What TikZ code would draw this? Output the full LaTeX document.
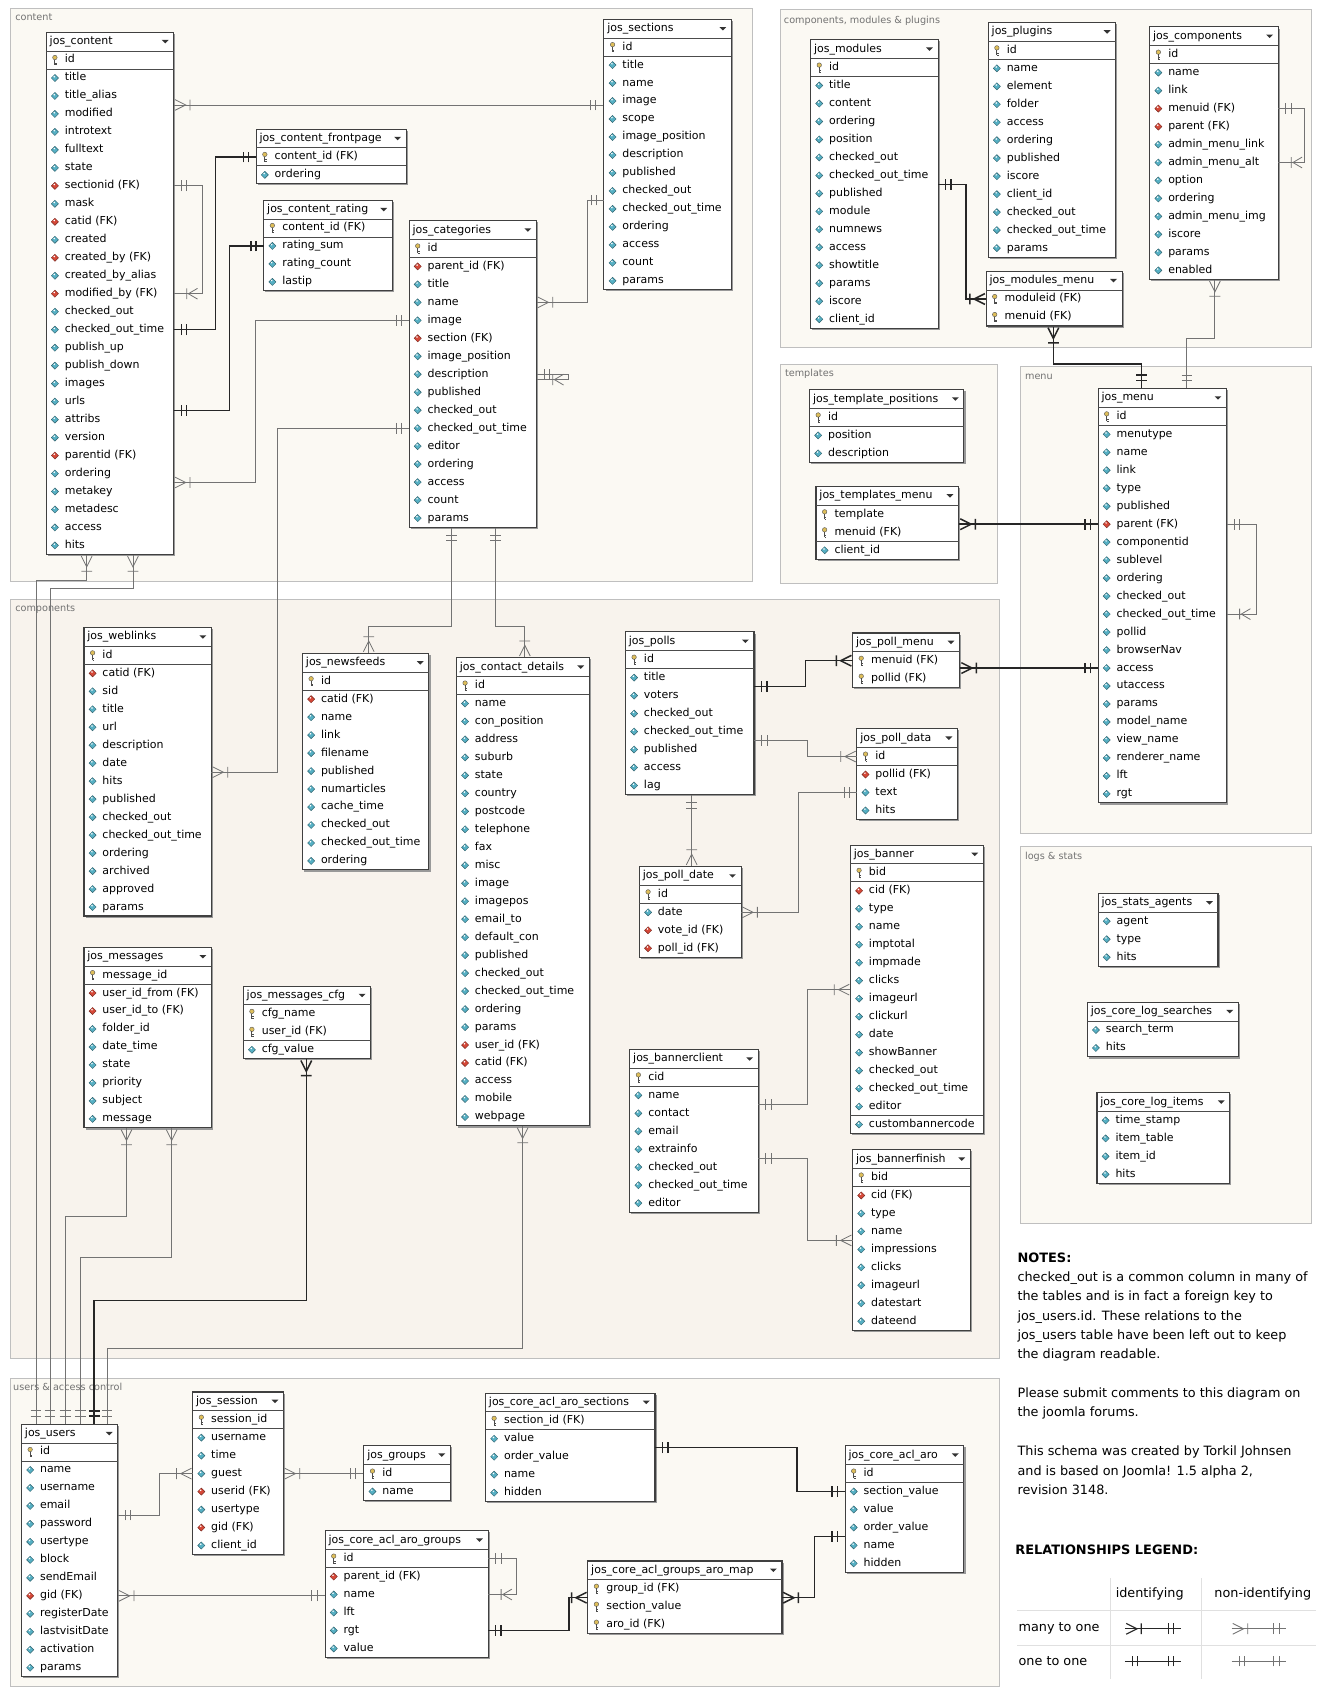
\documentclass[tikz,border=0pt]{standalone}
\usepackage{fontspec}
\setmainfont{DejaVu Sans}
\usetikzlibrary{positioning,fit,shadows,decorations.markings}
\pgfdeclarelayer{regions}
\pgfdeclarelayer{frames}
\pgfsetlayers{regions,frames,main}
\definecolor{colblue}{RGB}{86,176,196}
\definecolor{colred}{RGB}{214,72,56}
\definecolor{keygold}{RGB}{222,190,90}
\definecolor{regionfill}{RGB}{251,249,243}
\definecolor{compfill}{RGB}{248,243,237}
\newcommand\tblfont{\fontsize{10.2}{12}\selectfont}
\tikzset{
    %Define style for tables
    tblhead/.style={inner sep=0pt, minimum height=17pt, text height=8pt, text depth=2.5pt, font=\tblfont},
    tblrow/.style={inner sep=0pt, minimum height=16.3pt, text height=8pt, text depth=2.5pt, font=\tblfont},
    tblframe/.style={draw=black!75, line width=1pt, fill=white, inner sep=0pt,
           drop shadow={shadow xshift=1.5pt, shadow yshift=-1.5pt, fill=black!40, opacity=1}},
    tblline/.style={draw=black!70, line width=.8pt},
    %Define style for regions
    region/.style={draw=black!25, line width=.6pt, fill=regionfill},
    regionlabel/.style={anchor=west, inner sep=0pt, font=\fontsize{9}{10}\selectfont, text=black!55},
    notes/.style={inner sep=0pt, align=left, font=\fontsize{11.9}{18}\selectfont},
    notehead/.style={anchor=west, inner sep=0pt, font=\fontsize{12}{14}\selectfont\bfseries},
    % Define relation styles
    ident/.style={draw=black!85, line width=1.4pt},
    nonident/.style={draw=black!55, line width=.75pt},
    one start/.style={postaction={decorate,decoration={markings,
           mark=at position 7pt with {\draw (0,-5pt) -- (0,5pt);},
           mark=at position 12pt with {\draw (0,-5pt) -- (0,5pt);}}}},
    one end/.style={postaction={decorate,decoration={markings,
           mark=at position -12pt with {\draw (0,-5pt) -- (0,5pt);},
           mark=at position -7pt with {\draw (0,-5pt) -- (0,5pt);}}}},
    many start/.style={postaction={decorate,decoration={markings,
           mark=at position 0.1pt with {\draw (1pt,5pt) -- (11pt,0) -- (1pt,-5pt) (15pt,-5pt) -- (15pt,5pt);}}}},
    many end/.style={postaction={decorate,decoration={markings,
           mark=at position -0.1pt with {\draw (-1pt,5pt) -- (-11pt,0) -- (-1pt,-5pt) (-15pt,-5pt) -- (-15pt,5pt);}}}},
    self many end/.style={postaction={decorate,decoration={markings,
           mark=at position -0.1pt with {\draw ({-#1},-5pt) -- ({-#1},5pt) ({-#1-10pt},5pt) -- ({-#1-1.5pt},0) -- ({-#1-10pt},-5pt);}}}},
    self many end/.default=12pt,
    % icons
    pics/keyicon/.style={code={
           \filldraw[draw=black!65, fill=keygold, line width=.4pt] (0,2.3pt) circle (2.1pt);
           \draw[black!70, line width=.9pt] (0,.3pt) -- (0,-4.6pt) (0,-2.8pt) -- (1.7pt,-2.8pt) (0,-4.4pt) -- (1.7pt,-4.4pt);}},
    pics/colicon/.style={code={
           \filldraw[draw=#1!55!black, fill=#1, line width=.4pt] (0,3.3pt) -- (3.3pt,0) -- (0,-3.3pt) -- (-3.3pt,0) -- cycle;
           \fill[white] (-.6pt,1.2pt) circle (.8pt);}},
    pics/dropdown/.style={code={\fill[black!80] (-3.2pt,1.6pt) -- (3.2pt,1.6pt) -- (0,-1.6pt) -- cycle;}}
}
% #1 node name, #2 title, #3 corner, #4 width, #5 key rows, #6 rows
\newcommand\dbtable[6]{%
  \node[tblhead, minimum width=#4, anchor=north west] (#1-0) at (#3) {\makebox[#4][l]{\hspace{3pt}#2}};
  \pic at ([xshift=-8pt]#1-0.east) {dropdown};
  \foreach \txt/\kind [count=\i, evaluate=\i as \j using int(\i-1)] in {#6}{
    \node[tblrow, minimum width=#4, below=0pt of #1-\j] (#1-\i) {\makebox[#4][l]{\hspace{17pt}\txt}};
    \if k\kind \pic at ([xshift=8pt]#1-\i.west) {keyicon};\fi
    \if c\kind \pic at ([xshift=8pt]#1-\i.west) {colicon=colblue};\fi
    \if f\kind \pic at ([xshift=8pt]#1-\i.west) {colicon=colred};\fi
    \if b\kind \pic at ([xshift=8pt]#1-\i.west) {colicon=colblue};
      \draw[tblline] (#1-\i.north west) -- (#1-\i.north east);\fi
    \xdef\lastrow{\i}
  }
  \draw[tblline] (#1-0.south west) -- (#1-0.south east);
  \ifnum#5>0 \draw[tblline] (#1-#5.south west) -- (#1-#5.south east);\fi
  \begin{pgfonlayer}{frames}
    \node[tblframe, fit=(#1-0)(#1-\lastrow)] (#1) {};
  \end{pgfonlayer}
}
\begin{document}
\catcode`\_=12
\begin{tikzpicture}[x=1pt, y=-1pt]
\useasboundingbox (0,0) rectangle (1226,1568);
% regions
\begin{pgfonlayer}{regions}
  \fill[white] (0,0) rectangle (1226,1568);
  \draw[region] (10,8) rectangle (699,540);
  \draw[region] (725,9) rectangle (1218,323);
  \draw[region] (725,338) rectangle (926,542);
  \draw[region] (948,340) rectangle (1218,774);
  \draw[region, fill=compfill] (10,557) rectangle (928,1262);
  \draw[region] (948,786) rectangle (1218,1136);
  \draw[region] (10,1280) rectangle (928,1566);
\end{pgfonlayer}
\node[regionlabel] (rl-content) at (14,16) {content};
\node[regionlabel] (rl-cmp) at (728,19) {components, modules \& plugins};
\node[regionlabel] (rl-tmpl) at (729,347) {templates};
\node[regionlabel] (rl-menu) at (952,350) {menu};
\node[regionlabel] (rl-comp) at (14,566) {components};
\node[regionlabel] (rl-logs) at (952,796) {logs \& stats};
\node[regionlabel] (rl-users) at (12,1288) {users \& access control};

% content
\dbtable{content}{jos_content}{43,30}{118pt}{1}{id/k,title/c,title_alias/c,modified/c,introtext/c,fulltext/c,state/c,sectionid (FK)/f,mask/c,catid (FK)/f,created/c,created_by (FK)/f,created_by_alias/c,modified_by (FK)/f,checked_out/c,checked_out_time/c,publish_up/c,publish_down/c,images/c,urls/c,attribs/c,version/c,parentid (FK)/f,ordering/c,metakey/c,metadesc/c,access/c,hits/c}
\dbtable{sections}{jos_sections}{561,18}{118pt}{1}{id/k,title/c,name/c,image/c,scope/c,image_position/c,description/c,published/c,checked_out/c,checked_out_time/c,ordering/c,access/c,count/c,params/c}
\dbtable{frontpage}{jos_content_frontpage}{238,120}{139pt}{1}{content_id (FK)/k,ordering/c}
\dbtable{rating}{jos_content_rating}{245,186}{119pt}{1}{content_id (FK)/k,rating_sum/c,rating_count/c,lastip/c}
\dbtable{categories}{jos_categories}{380,205}{118pt}{1}{id/k,parent_id (FK)/f,title/c,name/c,image/c,section (FK)/f,image_position/c,description/c,published/c,checked_out/c,checked_out_time/c,editor/c,ordering/c,access/c,count/c,params/c}

% components, modules and plugins
\dbtable{modules}{jos_modules}{753,37}{118pt}{1}{id/k,title/c,content/c,ordering/c,position/c,checked_out/c,checked_out_time/c,published/c,module/c,numnews/c,access/c,showtitle/c,params/c,iscore/c,client_id/c}
\dbtable{plugins}{jos_plugins}{918,21}{118pt}{1}{id/k,name/c,element/c,folder/c,access/c,ordering/c,published/c,iscore/c,client_id/c,checked_out/c,checked_out_time/c,params/c}
\dbtable{components}{jos_components}{1068,25}{119pt}{1}{id/k,name/c,link/c,menuid (FK)/f,parent (FK)/f,admin_menu_link/c,admin_menu_alt/c,option/c,ordering/c,admin_menu_img/c,iscore/c,params/c,enabled/c}
\dbtable{modulesmenu}{jos_modules_menu}{916,252}{126pt}{2}{moduleid (FK)/k,menuid (FK)/k}

% templates and menu
\dbtable{tmplpos}{jos_template_positions}{752,362}{143pt}{1}{id/k,position/c,description/c}
\dbtable{tmplmenu}{jos_templates_menu}{758,452}{132pt}{2}{template/k,menuid (FK)/k,client_id/c}
\dbtable{menu}{jos_menu}{1020,361}{119pt}{1}{id/k,menutype/c,name/c,link/c,type/c,published/c,parent (FK)/f,componentid/c,sublevel/c,ordering/c,checked_out/c,checked_out_time/c,pollid/c,browserNav/c,access/c,utaccess/c,params/c,model_name/c,view_name/c,renderer_name/c,lft/c,rgt/c}

% components
\dbtable{weblinks}{jos_weblinks}{78,583}{118pt}{1}{id/k,catid (FK)/f,sid/c,title/c,url/c,description/c,date/c,hits/c,published/c,checked_out/c,checked_out_time/c,ordering/c,archived/c,approved/c,params/c}
\dbtable{newsfeeds}{jos_newsfeeds}{281,607}{117pt}{1}{id/k,catid (FK)/f,name/c,link/c,filename/c,published/c,numarticles/c,cache_time/c,checked_out/c,checked_out_time/c,ordering/c}
\dbtable{contact}{jos_contact_details}{424,611}{123pt}{1}{id/k,name/c,con_position/c,address/c,suburb/c,state/c,country/c,postcode/c,telephone/c,fax/c,misc/c,image/c,imagepos/c,email_to/c,default_con/c,published/c,checked_out/c,checked_out_time/c,ordering/c,params/c,user_id (FK)/f,catid (FK)/f,access/c,mobile/c,webpage/c}
\dbtable{polls}{jos_polls}{581,587}{119pt}{1}{id/k,title/c,voters/c,checked_out/c,checked_out_time/c,published/c,access/c,lag/c}
\dbtable{pollmenu}{jos_poll_menu}{792,588}{99pt}{2}{menuid (FK)/k,pollid (FK)/k}
\dbtable{polldata}{jos_poll_data}{796,677}{93pt}{1}{id/k,pollid (FK)/f,text/c,hits/c}
\dbtable{polldate}{jos_poll_date}{594,805}{94pt}{1}{id/k,date/c,vote_id (FK)/f,poll_id (FK)/f}
\dbtable{banner}{jos_banner}{790,785}{123pt}{1}{bid/k,cid (FK)/f,type/c,name/c,imptotal/c,impmade/c,clicks/c,imageurl/c,clickurl/c,date/c,showBanner/c,checked_out/c,checked_out_time/c,editor/c,custombannercode/b}
\dbtable{bannerclient}{jos_bannerclient}{585,975}{119pt}{1}{cid/k,name/c,contact/c,email/c,extrainfo/c,checked_out/c,checked_out_time/c,editor/c}
\dbtable{bannerfinish}{jos_bannerfinish}{792,1068}{109pt}{1}{bid/k,cid (FK)/f,type/c,name/c,impressions/c,clicks/c,imageurl/c,datestart/c,dateend/c}
\dbtable{messages}{jos_messages}{78,880}{118pt}{1}{message_id/k,user_id_from (FK)/f,user_id_to (FK)/f,folder_id/c,date_time/c,state/c,priority/c,subject/c,message/c}
\dbtable{messagescfg}{jos_messages_cfg}{226,916}{118pt}{2}{cfg_name/k,user_id (FK)/k,cfg_value/c}

% logs and stats
\dbtable{statsagents}{jos_stats_agents}{1020,830}{111pt}{0}{agent/c,type/c,hits/c}
\dbtable{logsearches}{jos_core_log_searches}{1010,931}{140pt}{0}{search_term/c,hits/c}
\dbtable{logitems}{jos_core_log_items}{1019,1015}{123pt}{0}{time_stamp/c,item_table/c,item_id/c,hits/c}

% users and access control
\dbtable{users}{jos_users}{20,1323}{89pt}{1}{id/k,name/c,username/c,email/c,password/c,usertype/c,block/c,sendEmail/c,gid (FK)/f,registerDate/c,lastvisitDate/c,activation/c,params/c}
\dbtable{session}{jos_session}{179,1293}{84pt}{1}{session_id/k,username/c,time/c,guest/c,userid (FK)/f,usertype/c,gid (FK)/f,client_id/c}
\dbtable{groups}{jos_groups}{338,1343}{80pt}{1}{id/k,name/c}
\dbtable{arosections}{jos_core_acl_aro_sections}{451,1294}{157pt}{1}{section_id (FK)/k,value/c,order_value/c,name/c,hidden/c}
\dbtable{aro}{jos_core_acl_aro}{785,1343}{110pt}{1}{id/k,section_value/c,value/c,order_value/c,name/c,hidden/c}
\dbtable{arogroups}{jos_core_acl_aro_groups}{302,1422}{151pt}{1}{id/k,parent_id (FK)/f,name/c,lft/c,rgt/c,value/c}
\dbtable{aromap}{jos_core_acl_groups_aro_map}{546,1450}{180pt}{3}{group_id (FK)/k,section_value/k,aro_id (FK)/k}

% relations: content
\draw[nonident, many start, one end] (content-3.south east) -- (content-3.south east -| sections.west);
\draw[nonident, one start, self many end] (content-8.east) -- ++(27,0) |- (content-14.east);
\draw[ident, one start, one end] (content-16.east) -- ++(39,0) |- (frontpage-1.west);
\draw[ident, one start, one end] (content-20.south east) -- ++(52,0) |- (rating-2.west);
\draw[nonident, many start, one end] (content-24.south east) -- ++(76,0) |- (categories-5.west);
\draw[nonident, many start, one end] (categories-4.east) -- ++(47,0) |- (sections-9.south west);
\draw[nonident, one start, self many end=15pt] (categories-8.east) -- ++(30,0) -- ++(0,5) -- ++(-30,0);
\draw[nonident, one start, many end] ([xshift=40pt]categories.south west) -- ++(0,92) -| ([xshift=62pt]newsfeeds.north west);
\draw[nonident, one start, many end] ([xshift=81pt]categories.south west) -- ++(0,92) -| ([xshift=64pt]contact.north west);
\draw[nonident, one start, many end] (categories-11.west) -- ++(-122,0) |- (weblinks-7.south east);
\draw[nonident, many start, one end] ([xshift=38pt]content.south west) -- ++(0,24) -| ([xshift=14pt]users.north west);
\draw[nonident, many start, one end] ([xshift=81pt]content.south west) -- ++(0,31) -| ([xshift=27pt]users.north west);

% relations: modules, components, menu
\draw[ident, one start, many end] (modules-7.south east) -- ++(26,0) |- (modulesmenu-1.west);
\draw[ident, many start, one end] ([xshift=63pt]modulesmenu.south west) -- ++(0,35) -| ([xshift=41pt]menu.north west);
\draw[nonident, many start, one end] ([xshift=61pt]components.south west) -- ++(0,54) -| ([xshift=83pt]menu.north west);
\draw[nonident, one start, self many end] (components-4.east) -- ++(24,0) |- (components-7.east);
\draw[ident, many start, one end] (menu-7.west -| tmplmenu.east) -- (menu-7.west);
\draw[nonident, one start, self many end] (menu-7.east) -- ++(28,0) |- (menu-12.east);
\draw[ident, many start, one end] (menu-15.west -| pollmenu.east) -- (menu-15.west);

% relations: components
\draw[ident, one start, many end] (polls-2.south east) -- ++(48,0) |- (pollmenu-1.west);
\draw[nonident, one start, many end] (polls-5.south east) -- ++(50,0) |- (polldata-1.west);
\draw[nonident, one start, many end] ([xshift=62pt]polls.south west) -- ([xshift=49pt]polldate.north west);
\draw[nonident, many start, one end] (polldate-2.east) -- ++(53,0) |- (polldata-3.west);
\draw[nonident, one start, many end] (bannerclient-2.south east) -- ++(46,0) |- (banner-7.south west);
\draw[nonident, one start, many end] (bannerclient-5.south east) -- ++(46,0) |- (bannerfinish-4.south west);
\draw[nonident, many start, one end] ([xshift=62pt]contact.south west) -- ++(0,206) -| ([xshift=80pt]users.north west);
\draw[nonident, many start, one end] ([xshift=40pt]messages.south west) -- ++(0,82) -| ([xshift=41pt]users.north west);
\draw[nonident, many start, one end] ([xshift=82pt]messages.south west) -- ++(0,120) -| ([xshift=55pt]users.north west);
\draw[ident, many start, one end] ([xshift=59pt]messagescfg.south west) -- ++(0,224) -| ([xshift=68pt]users.north west);

% relations: users and access control
\draw[nonident, one start, many end] (users-4.south east) -- ++(39,0) |- (session-4.west);
\draw[nonident, many start, one end] (session-4.east) -- (session-4.east -| groups.west);
\draw[nonident, many start, one end] (users-9.east) -- (users-9.east -| arogroups.west);
\draw[nonident, one start, self many end] (arogroups-1.east) -- ++(26,0) |- (arogroups-3.east);
\draw[ident, one start, many end] (arogroups-5.east) -- ++(75,0) |- (aromap-1.south west);
\draw[ident, many start, one end] (aromap-1.south east) -- ++(30,0) |- (aro-4.south west);
\draw[ident, one start, one end] (arosections-2.south east) -- ++(132,0) |- (aro-2.west);

% notes
\node[notehead] (noteshead) at (945,1168) {NOTES:};
\node[notes, anchor=north west] (notes) at (945,1181) {checked_out is a common column in many of\\
the tables and is in fact a foreign key to\\
jos_users.id. These relations to the\\
jos_users table have been left out to keep\\
the diagram readable.\\[18pt]
Please submit comments to this diagram on\\
the joomla forums.\\[18pt]
This schema was created by Torkil Johnsen\\
and is based on Joomla! 1.5 alpha 2,\\
revision 3148.};

% legend
\node[notehead] (legendhead) at (943,1440) {RELATIONSHIPS LEGEND:};
\draw[black!12, line width=.6pt] (1031,1466) -- (1031,1560) (1116,1466) -- (1116,1560)
    (945,1496) -- (1222,1496) (945,1528) -- (1222,1528);
\node[notes] (lg-ident) at (1068,1481) {identifying};
\node[notes] (lg-nonident) at (1173,1481) {non-identifying};
\node[notes, anchor=west] (lg-many) at (946,1513) {many to one};
\node[notes, anchor=west] (lg-one) at (946,1543) {one to one};
\coordinate (lg-a1) at (1045,1513); \coordinate (lg-b1) at (1097,1513);
\coordinate (lg-a2) at (1144,1513); \coordinate (lg-b2) at (1195,1513);
\coordinate (lg-a3) at (1045,1543); \coordinate (lg-b3) at (1097,1543);
\coordinate (lg-a4) at (1144,1543); \coordinate (lg-b4) at (1195,1543);
\draw[ident, line width=1pt, many start, one end] (lg-a1) -- (lg-b1);
\draw[nonident, many start, one end] (lg-a2) -- (lg-b2);
\draw[ident, line width=1pt, one start, one end] (lg-a3) -- (lg-b3);
\draw[nonident, one start, one end] (lg-a4) -- (lg-b4);
\end{tikzpicture}
\end{document}
